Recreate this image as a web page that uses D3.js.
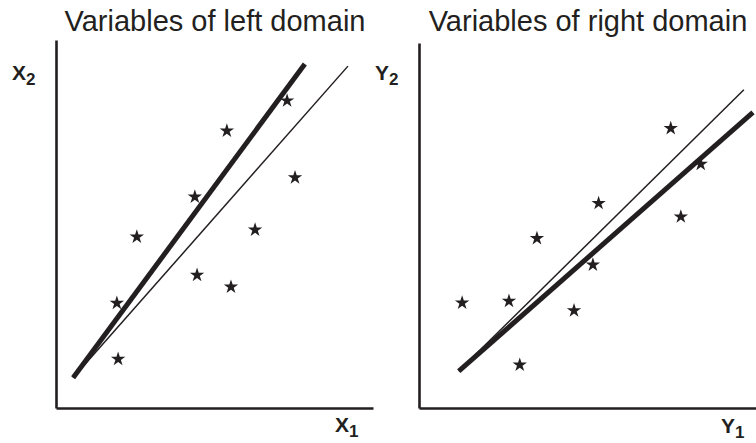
<!DOCTYPE html>
<html>
<head>
<meta charset="utf-8">
<script src="https://cdn.jsdelivr.net/npm/d3@7"></script>
<style>
  body { margin: 0; background: #fff; }
  svg { display: block; font-family: "Liberation Sans", Arial, Helvetica, sans-serif; }
</style>
</head>
<body>
<svg id="chart" width="756" height="443"></svg>
<script>
// left domain: x1 / x2 observations
const leftX = [19.6, 19.2, 25.5, 43.8, 53.9, 44.5, 55.2, 62.8, 72.9, 75.4];
const leftY = [13.3, 28.5, 46.5, 57.4, 75.3, 36.1, 32.9, 48.4, 83.5, 62.6];
// fitted lines (start/end) for left domain
const leftThick = [[5.4, 8.2], [78.5, 93.5]];
const leftThin = [[5.4, 8.2], [92.1, 92.9]];

// right domain: y1 / y2 observations
const rightX = [74.7, 83.6, 77.7, 53.3, 35.0, 51.6, 12.8, 26.7, 46.0, 29.9];
const rightY = [76.6, 66.8, 52.4, 56.1, 46.5, 39.2, 28.8, 29.3, 26.7, 11.8];
const rightThick = [[11.8, 10.1], [99.1, 81.0]];
const rightThin = [[11.8, 10.1], [96.4, 87.2]];

const titles = ["Variables of left domain", "Variables of right domain"];

const ink = "#231f20";
const svg = d3.select("#chart");

function panel(opts) {
  const x = d3.scaleLinear().domain([0, 100]).range(opts.xRange);
  const y = d3.scaleLinear().domain([0, 100]).range([408, opts.yTop]);
  const g = svg.append("g");

  const yAxis = g.append("g")
    .attr("transform", `translate(${opts.xRange[0]},0)`)
    .call(d3.axisLeft(y).ticks(0).tickSizeOuter(0));
  const xAxis = g.append("g")
    .attr("transform", `translate(0,408)`)
    .call(d3.axisBottom(x).ticks(0).tickSizeOuter(0));
  [yAxis, xAxis].forEach((a) => {
    a.select(".domain").attr("stroke", ink).attr("stroke-width", 2.6);
  });

  const line = d3.line().x((d) => x(d[0])).y((d) => y(d[1]));
  g.append("path").datum(opts.thin).attr("d", line)
    .attr("fill", "none").attr("stroke", ink).attr("stroke-width", 1.5);
  g.append("path").datum(opts.thick).attr("d", line)
    .attr("fill", "none").attr("stroke", ink).attr("stroke-width", 5);

  const star = d3.symbol().type(d3.symbolStar).size(64);
  g.selectAll("path.pt")
    .data(opts.xs.map((v, i) => [v, opts.ys[i]]))
    .join("path")
    .attr("class", "pt")
    .attr("d", star)
    .attr("transform", (d) => `translate(${x(d[0])},${y(d[1])})`)
    .attr("fill", ink);

  g.append("text")
    .attr("x", opts.titleX).attr("y", 31)
    .attr("text-anchor", "middle")
    .attr("font-size", 29)
    .attr("fill", ink)
    .text(opts.title);

  function label(px, py, main, sub) {
    const t = g.append("text").attr("x", px).attr("y", py)
      .attr("font-weight", "bold").attr("fill", ink).attr("font-size", 21);
    t.append("tspan").text(main);
    t.append("tspan").attr("font-size", 17).attr("dy", 5).text(sub);
  }
  label(opts.vLabel[0], opts.vLabel[1], opts.vName, "2");
  label(opts.hLabel[0], opts.hLabel[1], opts.vName, "1");
}

panel({
  xRange: [56, 373], yTop: 40, xs: leftX, ys: leftY,
  thick: leftThick, thin: leftThin, title: titles[0], titleX: 215,
  vName: "X", vLabel: [12, 80], hLabel: [335, 432]
});
panel({
  xRange: [419, 756], yTop: 43, xs: rightX, ys: rightY,
  thick: rightThick, thin: rightThin, title: titles[1], titleX: 588,
  vName: "Y", vLabel: [375, 80], hLabel: [721, 433]
});
</script>
</body>
</html>
